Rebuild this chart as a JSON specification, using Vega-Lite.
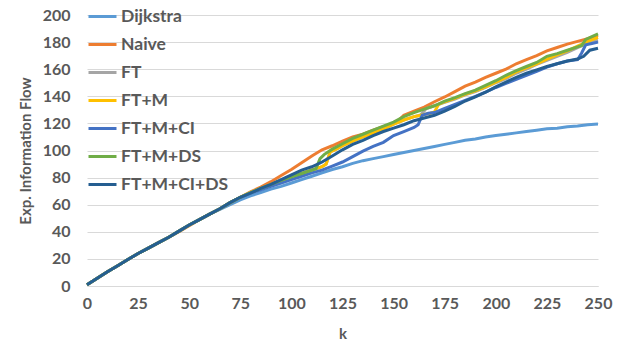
{
  "$schema": "https://vega.github.io/schema/vega-lite/v6.json",
  "width": 511,
  "height": 271,
  "autosize": {"type": "none"},
  "padding": {"left": 87, "top": 15, "right": 24, "bottom": 65},
  "background": "white",
  "config": {
    "view": {"stroke": null},
    "font": "Lato",
    "axis": {"labelFont": "Lato", "titleFont": "Lato", "labelColor": "#595959", "titleColor": "#595959", "labelFontWeight": "bold", "titleFontWeight": "bold", "labelFontSize": 16, "titleFontSize": 15}
  },
  "data": {"values": [
    {"s":"Dijkstra","k":0,"v":1},{"s":"Dijkstra","k":5,"v":5.8},{"s":"Dijkstra","k":10,"v":10.5},{"s":"Dijkstra","k":15,"v":15},{"s":"Dijkstra","k":20,"v":19.5},{"s":"Dijkstra","k":25,"v":24},{"s":"Dijkstra","k":30,"v":28},{"s":"Dijkstra","k":35,"v":32},{"s":"Dijkstra","k":40,"v":36},{"s":"Dijkstra","k":45,"v":40.5},{"s":"Dijkstra","k":50,"v":45},{"s":"Dijkstra","k":55,"v":49},{"s":"Dijkstra","k":60,"v":53},{"s":"Dijkstra","k":65,"v":56.5},{"s":"Dijkstra","k":70,"v":60},{"s":"Dijkstra","k":75,"v":63.5},{"s":"Dijkstra","k":80,"v":66.5},{"s":"Dijkstra","k":85,"v":69},{"s":"Dijkstra","k":90,"v":71.5},{"s":"Dijkstra","k":95,"v":73.5},{"s":"Dijkstra","k":100,"v":76},{"s":"Dijkstra","k":105,"v":78.5},{"s":"Dijkstra","k":110,"v":81},{"s":"Dijkstra","k":115,"v":83.5},{"s":"Dijkstra","k":120,"v":86},{"s":"Dijkstra","k":125,"v":88},{"s":"Dijkstra","k":130,"v":90.5},{"s":"Dijkstra","k":135,"v":92.5},{"s":"Dijkstra","k":140,"v":94},{"s":"Dijkstra","k":145,"v":95.5},{"s":"Dijkstra","k":150,"v":97},{"s":"Dijkstra","k":155,"v":98.5},{"s":"Dijkstra","k":160,"v":100},{"s":"Dijkstra","k":165,"v":101.5},{"s":"Dijkstra","k":170,"v":103},{"s":"Dijkstra","k":175,"v":104.5},{"s":"Dijkstra","k":180,"v":106},{"s":"Dijkstra","k":185,"v":107.5},{"s":"Dijkstra","k":190,"v":108.5},{"s":"Dijkstra","k":195,"v":110},{"s":"Dijkstra","k":200,"v":111},{"s":"Dijkstra","k":205,"v":112},{"s":"Dijkstra","k":210,"v":113},{"s":"Dijkstra","k":215,"v":114},{"s":"Dijkstra","k":220,"v":115},{"s":"Dijkstra","k":225,"v":116},{"s":"Dijkstra","k":230,"v":116.5},{"s":"Dijkstra","k":235,"v":117.5},{"s":"Dijkstra","k":240,"v":118},{"s":"Dijkstra","k":245,"v":119},{"s":"Dijkstra","k":250,"v":119.5},

    {"s":"Naive","k":0,"v":1},{"s":"Naive","k":5,"v":5.8},{"s":"Naive","k":10,"v":10.5},{"s":"Naive","k":15,"v":15},{"s":"Naive","k":20,"v":19.5},{"s":"Naive","k":25,"v":24},{"s":"Naive","k":30,"v":28},{"s":"Naive","k":35,"v":32},{"s":"Naive","k":40,"v":36},{"s":"Naive","k":45,"v":40},{"s":"Naive","k":50,"v":44.5},{"s":"Naive","k":55,"v":49},{"s":"Naive","k":60,"v":53},{"s":"Naive","k":65,"v":57},{"s":"Naive","k":70,"v":61.5},{"s":"Naive","k":75,"v":65.5},{"s":"Naive","k":80,"v":69.5},{"s":"Naive","k":85,"v":73},{"s":"Naive","k":90,"v":77},{"s":"Naive","k":95,"v":81.5},{"s":"Naive","k":100,"v":86},{"s":"Naive","k":105,"v":91},{"s":"Naive","k":110,"v":96},{"s":"Naive","k":115,"v":100.5},{"s":"Naive","k":120,"v":103.5},{"s":"Naive","k":125,"v":107},{"s":"Naive","k":130,"v":110},{"s":"Naive","k":135,"v":112},{"s":"Naive","k":140,"v":115},{"s":"Naive","k":145,"v":117.5},{"s":"Naive","k":150,"v":120},{"s":"Naive","k":152,"v":121.5},{"s":"Naive","k":155,"v":126},{"s":"Naive","k":160,"v":129},{"s":"Naive","k":165,"v":132},{"s":"Naive","k":170,"v":136},{"s":"Naive","k":175,"v":139.5},{"s":"Naive","k":180,"v":143.5},{"s":"Naive","k":185,"v":147.5},{"s":"Naive","k":190,"v":150.5},{"s":"Naive","k":195,"v":154},{"s":"Naive","k":200,"v":157},{"s":"Naive","k":205,"v":160},{"s":"Naive","k":210,"v":164},{"s":"Naive","k":215,"v":167},{"s":"Naive","k":220,"v":170},{"s":"Naive","k":225,"v":173.5},{"s":"Naive","k":230,"v":176},{"s":"Naive","k":235,"v":178.5},{"s":"Naive","k":240,"v":180.5},{"s":"Naive","k":245,"v":182.5},{"s":"Naive","k":250,"v":185},

    {"s":"FT","k":0,"v":1},{"s":"FT","k":5,"v":5.8},{"s":"FT","k":10,"v":10.5},{"s":"FT","k":15,"v":15},{"s":"FT","k":20,"v":19.5},{"s":"FT","k":25,"v":24},{"s":"FT","k":30,"v":28},{"s":"FT","k":35,"v":32},{"s":"FT","k":40,"v":36},{"s":"FT","k":45,"v":40.5},{"s":"FT","k":50,"v":45},{"s":"FT","k":55,"v":49},{"s":"FT","k":60,"v":53},{"s":"FT","k":65,"v":57},{"s":"FT","k":70,"v":61.5},{"s":"FT","k":75,"v":65.5},{"s":"FT","k":80,"v":69},{"s":"FT","k":85,"v":72},{"s":"FT","k":90,"v":75},{"s":"FT","k":95,"v":78},{"s":"FT","k":100,"v":80.5},{"s":"FT","k":105,"v":83},{"s":"FT","k":110,"v":85.5},{"s":"FT","k":115,"v":88},{"s":"FT","k":117,"v":90},{"s":"FT","k":119,"v":99},{"s":"FT","k":122,"v":101},{"s":"FT","k":125,"v":103.5},{"s":"FT","k":130,"v":107},{"s":"FT","k":135,"v":110},{"s":"FT","k":140,"v":113},{"s":"FT","k":145,"v":116},{"s":"FT","k":150,"v":119.5},{"s":"FT","k":155,"v":122.5},{"s":"FT","k":160,"v":125},{"s":"FT","k":163,"v":126},{"s":"FT","k":166,"v":131},{"s":"FT","k":170,"v":133},{"s":"FT","k":175,"v":135.5},{"s":"FT","k":180,"v":138},{"s":"FT","k":185,"v":141},{"s":"FT","k":190,"v":143.5},{"s":"FT","k":195,"v":146.5},{"s":"FT","k":200,"v":150},{"s":"FT","k":205,"v":153},{"s":"FT","k":210,"v":157},{"s":"FT","k":215,"v":160},{"s":"FT","k":220,"v":163.5},{"s":"FT","k":225,"v":166.5},{"s":"FT","k":230,"v":169.5},{"s":"FT","k":235,"v":172.5},{"s":"FT","k":240,"v":176},{"s":"FT","k":245,"v":179},{"s":"FT","k":250,"v":181.5},

    {"s":"FT+M","k":0,"v":1},{"s":"FT+M","k":5,"v":5.8},{"s":"FT+M","k":10,"v":10.5},{"s":"FT+M","k":15,"v":15},{"s":"FT+M","k":20,"v":19.5},{"s":"FT+M","k":25,"v":24},{"s":"FT+M","k":30,"v":28},{"s":"FT+M","k":35,"v":32},{"s":"FT+M","k":40,"v":36},{"s":"FT+M","k":45,"v":40.5},{"s":"FT+M","k":50,"v":45},{"s":"FT+M","k":55,"v":49},{"s":"FT+M","k":60,"v":53},{"s":"FT+M","k":65,"v":57},{"s":"FT+M","k":70,"v":61.5},{"s":"FT+M","k":75,"v":65.5},{"s":"FT+M","k":80,"v":69},{"s":"FT+M","k":85,"v":72},{"s":"FT+M","k":90,"v":75},{"s":"FT+M","k":95,"v":78},{"s":"FT+M","k":100,"v":80.5},{"s":"FT+M","k":105,"v":83},{"s":"FT+M","k":110,"v":85.5},{"s":"FT+M","k":115,"v":88},{"s":"FT+M","k":117,"v":90},{"s":"FT+M","k":119,"v":99},{"s":"FT+M","k":122,"v":101},{"s":"FT+M","k":125,"v":103.5},{"s":"FT+M","k":130,"v":107},{"s":"FT+M","k":135,"v":110},{"s":"FT+M","k":140,"v":113},{"s":"FT+M","k":145,"v":116},{"s":"FT+M","k":150,"v":119.5},{"s":"FT+M","k":155,"v":122.5},{"s":"FT+M","k":160,"v":125},{"s":"FT+M","k":165,"v":126.5},{"s":"FT+M","k":168,"v":127.5},{"s":"FT+M","k":170,"v":128.5},{"s":"FT+M","k":172,"v":134},{"s":"FT+M","k":175,"v":136},{"s":"FT+M","k":180,"v":138.5},{"s":"FT+M","k":185,"v":141.5},{"s":"FT+M","k":190,"v":144},{"s":"FT+M","k":195,"v":147},{"s":"FT+M","k":200,"v":150.5},{"s":"FT+M","k":205,"v":154},{"s":"FT+M","k":210,"v":158},{"s":"FT+M","k":215,"v":161},{"s":"FT+M","k":220,"v":164},{"s":"FT+M","k":225,"v":167.5},{"s":"FT+M","k":230,"v":170.5},{"s":"FT+M","k":235,"v":173.5},{"s":"FT+M","k":240,"v":177},{"s":"FT+M","k":245,"v":180.5},{"s":"FT+M","k":250,"v":183.5},

    {"s":"FT+M+CI","k":0,"v":1},{"s":"FT+M+CI","k":5,"v":5.8},{"s":"FT+M+CI","k":10,"v":10.5},{"s":"FT+M+CI","k":15,"v":15},{"s":"FT+M+CI","k":20,"v":19.5},{"s":"FT+M+CI","k":25,"v":24},{"s":"FT+M+CI","k":30,"v":28},{"s":"FT+M+CI","k":35,"v":32},{"s":"FT+M+CI","k":40,"v":36},{"s":"FT+M+CI","k":45,"v":40.5},{"s":"FT+M+CI","k":50,"v":45},{"s":"FT+M+CI","k":55,"v":49},{"s":"FT+M+CI","k":60,"v":53},{"s":"FT+M+CI","k":65,"v":57},{"s":"FT+M+CI","k":70,"v":61.5},{"s":"FT+M+CI","k":75,"v":65.5},{"s":"FT+M+CI","k":80,"v":68.5},{"s":"FT+M+CI","k":85,"v":71},{"s":"FT+M+CI","k":90,"v":73.5},{"s":"FT+M+CI","k":95,"v":76},{"s":"FT+M+CI","k":100,"v":78.5},{"s":"FT+M+CI","k":105,"v":81},{"s":"FT+M+CI","k":110,"v":83.5},{"s":"FT+M+CI","k":115,"v":85.5},{"s":"FT+M+CI","k":120,"v":88.5},{"s":"FT+M+CI","k":125,"v":91.5},{"s":"FT+M+CI","k":130,"v":95.5},{"s":"FT+M+CI","k":135,"v":99.5},{"s":"FT+M+CI","k":140,"v":103},{"s":"FT+M+CI","k":145,"v":106},{"s":"FT+M+CI","k":150,"v":111},{"s":"FT+M+CI","k":155,"v":114},{"s":"FT+M+CI","k":160,"v":117},{"s":"FT+M+CI","k":162,"v":119},{"s":"FT+M+CI","k":164,"v":126},{"s":"FT+M+CI","k":167,"v":127.5},{"s":"FT+M+CI","k":170,"v":128},{"s":"FT+M+CI","k":175,"v":131},{"s":"FT+M+CI","k":180,"v":134},{"s":"FT+M+CI","k":185,"v":137},{"s":"FT+M+CI","k":190,"v":140},{"s":"FT+M+CI","k":195,"v":143},{"s":"FT+M+CI","k":200,"v":146.5},{"s":"FT+M+CI","k":205,"v":149.5},{"s":"FT+M+CI","k":210,"v":152.5},{"s":"FT+M+CI","k":215,"v":155.5},{"s":"FT+M+CI","k":220,"v":158.5},{"s":"FT+M+CI","k":225,"v":161.5},{"s":"FT+M+CI","k":230,"v":164},{"s":"FT+M+CI","k":235,"v":166},{"s":"FT+M+CI","k":240,"v":167},{"s":"FT+M+CI","k":242,"v":172},{"s":"FT+M+CI","k":244,"v":178},{"s":"FT+M+CI","k":247,"v":179},{"s":"FT+M+CI","k":250,"v":180},

    {"s":"FT+M+DS","k":0,"v":1},{"s":"FT+M+DS","k":5,"v":5.8},{"s":"FT+M+DS","k":10,"v":10.5},{"s":"FT+M+DS","k":15,"v":15},{"s":"FT+M+DS","k":20,"v":19.5},{"s":"FT+M+DS","k":25,"v":24},{"s":"FT+M+DS","k":30,"v":28},{"s":"FT+M+DS","k":35,"v":32},{"s":"FT+M+DS","k":40,"v":36},{"s":"FT+M+DS","k":45,"v":40.5},{"s":"FT+M+DS","k":50,"v":45},{"s":"FT+M+DS","k":55,"v":49},{"s":"FT+M+DS","k":60,"v":53},{"s":"FT+M+DS","k":65,"v":57},{"s":"FT+M+DS","k":70,"v":61.5},{"s":"FT+M+DS","k":75,"v":65.5},{"s":"FT+M+DS","k":80,"v":69},{"s":"FT+M+DS","k":85,"v":72},{"s":"FT+M+DS","k":90,"v":75},{"s":"FT+M+DS","k":95,"v":78},{"s":"FT+M+DS","k":100,"v":80.5},{"s":"FT+M+DS","k":105,"v":83},{"s":"FT+M+DS","k":110,"v":85.5},{"s":"FT+M+DS","k":112,"v":86.5},{"s":"FT+M+DS","k":114,"v":94},{"s":"FT+M+DS","k":116,"v":97},{"s":"FT+M+DS","k":120,"v":101},{"s":"FT+M+DS","k":125,"v":105},{"s":"FT+M+DS","k":130,"v":109},{"s":"FT+M+DS","k":135,"v":112},{"s":"FT+M+DS","k":140,"v":115},{"s":"FT+M+DS","k":145,"v":118},{"s":"FT+M+DS","k":150,"v":121},{"s":"FT+M+DS","k":155,"v":125},{"s":"FT+M+DS","k":160,"v":128},{"s":"FT+M+DS","k":165,"v":130.5},{"s":"FT+M+DS","k":170,"v":133},{"s":"FT+M+DS","k":175,"v":136.5},{"s":"FT+M+DS","k":180,"v":139},{"s":"FT+M+DS","k":185,"v":142},{"s":"FT+M+DS","k":190,"v":144.5},{"s":"FT+M+DS","k":195,"v":148},{"s":"FT+M+DS","k":200,"v":151.5},{"s":"FT+M+DS","k":205,"v":155.5},{"s":"FT+M+DS","k":210,"v":159},{"s":"FT+M+DS","k":215,"v":162},{"s":"FT+M+DS","k":220,"v":165},{"s":"FT+M+DS","k":225,"v":169.5},{"s":"FT+M+DS","k":230,"v":171.5},{"s":"FT+M+DS","k":235,"v":174},{"s":"FT+M+DS","k":240,"v":176.5},{"s":"FT+M+DS","k":242,"v":177.5},{"s":"FT+M+DS","k":244,"v":182},{"s":"FT+M+DS","k":247,"v":184},{"s":"FT+M+DS","k":250,"v":186},

    {"s":"FT+M+CI+DS","k":0,"v":1},{"s":"FT+M+CI+DS","k":5,"v":5.8},{"s":"FT+M+CI+DS","k":10,"v":10.5},{"s":"FT+M+CI+DS","k":15,"v":15},{"s":"FT+M+CI+DS","k":20,"v":19.5},{"s":"FT+M+CI+DS","k":25,"v":24},{"s":"FT+M+CI+DS","k":30,"v":28},{"s":"FT+M+CI+DS","k":35,"v":32},{"s":"FT+M+CI+DS","k":40,"v":36},{"s":"FT+M+CI+DS","k":45,"v":40.5},{"s":"FT+M+CI+DS","k":50,"v":45},{"s":"FT+M+CI+DS","k":55,"v":49},{"s":"FT+M+CI+DS","k":60,"v":53},{"s":"FT+M+CI+DS","k":65,"v":57},{"s":"FT+M+CI+DS","k":70,"v":61.5},{"s":"FT+M+CI+DS","k":75,"v":65.5},{"s":"FT+M+CI+DS","k":80,"v":68.5},{"s":"FT+M+CI+DS","k":85,"v":72},{"s":"FT+M+CI+DS","k":90,"v":75},{"s":"FT+M+CI+DS","k":95,"v":78.5},{"s":"FT+M+CI+DS","k":100,"v":82},{"s":"FT+M+CI+DS","k":105,"v":85.5},{"s":"FT+M+CI+DS","k":110,"v":88},{"s":"FT+M+CI+DS","k":115,"v":91.5},{"s":"FT+M+CI+DS","k":120,"v":96},{"s":"FT+M+CI+DS","k":125,"v":100.5},{"s":"FT+M+CI+DS","k":130,"v":104.5},{"s":"FT+M+CI+DS","k":135,"v":107.5},{"s":"FT+M+CI+DS","k":140,"v":111},{"s":"FT+M+CI+DS","k":145,"v":114},{"s":"FT+M+CI+DS","k":150,"v":116.5},{"s":"FT+M+CI+DS","k":155,"v":119},{"s":"FT+M+CI+DS","k":160,"v":122},{"s":"FT+M+CI+DS","k":165,"v":124},{"s":"FT+M+CI+DS","k":170,"v":126},{"s":"FT+M+CI+DS","k":175,"v":129},{"s":"FT+M+CI+DS","k":180,"v":132.5},{"s":"FT+M+CI+DS","k":185,"v":136.5},{"s":"FT+M+CI+DS","k":190,"v":139.5},{"s":"FT+M+CI+DS","k":195,"v":143},{"s":"FT+M+CI+DS","k":200,"v":147},{"s":"FT+M+CI+DS","k":205,"v":150.5},{"s":"FT+M+CI+DS","k":210,"v":154},{"s":"FT+M+CI+DS","k":215,"v":157},{"s":"FT+M+CI+DS","k":220,"v":159.5},{"s":"FT+M+CI+DS","k":225,"v":162},{"s":"FT+M+CI+DS","k":230,"v":164},{"s":"FT+M+CI+DS","k":235,"v":166},{"s":"FT+M+CI+DS","k":240,"v":167.5},{"s":"FT+M+CI+DS","k":243,"v":169.5},{"s":"FT+M+CI+DS","k":246,"v":174},{"s":"FT+M+CI+DS","k":250,"v":175.5}
  ]},
  "mark": {"type": "line", "strokeWidth": 3, "clip": false},
  "encoding": {
    "x": {"field": "k", "type": "quantitative", "title": "k",
      "scale": {"domain": [0, 250], "nice": false},
      "axis": {"values": [0,25,50,75,100,125,150,175,200,225,250], "grid": false, "ticks": false, "domain": true, "domainColor": "#D9D9D9", "domainWidth": 1, "labelPadding": 9, "titlePadding": 15, "labelFlush": false}},
    "y": {"field": "v", "type": "quantitative", "title": "Exp. Information Flow",
      "scale": {"domain": [0, 200], "nice": false},
      "axis": {"values": [0,20,40,60,80,100,120,140,160,180,200], "grid": true, "gridColor": "#D9D9D9", "gridWidth": 1, "ticks": false, "domain": false, "labelPadding": 17, "titlePadding": 9}},
    "color": {"field": "s", "type": "nominal",
      "scale": {"domain": ["Dijkstra","Naive","FT","FT+M","FT+M+CI","FT+M+DS","FT+M+CI+DS"],
        "range": ["#5B9BD5","#ED7D31","#A5A5A5","#FFC000","#4472C4","#70AD47","#255E91"]},
      "legend": {"orient": "none", "legendX": 0, "legendY": -14, "padding": 0, "title": null, "symbolType": "stroke", "symbolSize": 784, "symbolStrokeWidth": 3, "labelFont": "Lato", "labelFontSize": 17.5, "labelFontWeight": "bold", "labelColor": "#595959", "labelOffset": 3, "rowPadding": 4, "labelLimit": 300}}
  }
}
